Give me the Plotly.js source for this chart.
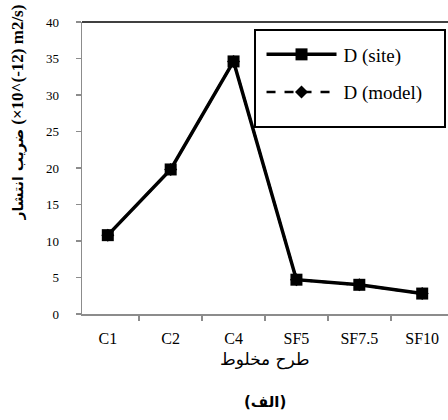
<!DOCTYPE html>
<html>
<head>
<meta charset="utf-8">
<script src="https://cdn.plot.ly/plotly-3.0.1.min.js"></script>
<style>html,body{margin:0;padding:0;background:#fff;}#chart{width:448px;height:420px;}</style>
</head>
<body>
<div id="chart"></div>
<script>
const categories = ["C1", "C2", "C4", "SF5", "SF7.5", "SF10"];
const siteValues = [10.8, 19.8, 34.6, 4.7, 4.0, 2.8];
const modelValues = [10.8, 19.8, 34.6, 4.7, 4.0, 2.8];
const yTicks = [0, 5, 10, 15, 20, 25, 30, 35, 40];

const serif = "Liberation Serif";
const arabicFont = "DejaVu Sans";

const traces = [
  {
    x: categories, y: modelValues, name: "D (model)", type: "scatter", mode: "lines+markers",
    line: {color: "#000", width: 2.5, dash: "dash"},
    marker: {symbol: "diamond", size: 10, color: "#000"},
    legendgroup: "b", legendrank: 2
  },
  {
    x: categories, y: siteValues, name: "D (site)", type: "scatter", mode: "lines+markers",
    line: {color: "#000", width: 3.5},
    marker: {symbol: "square", size: 12, color: "#000"},
    legendgroup: "a", legendrank: 1
  }
];

const layout = {
  width: 448, height: 420,
  margin: {l: 82, r: 0, t: 22, b: 106},
  paper_bgcolor: "#fff", plot_bgcolor: "#fff",
  font: {family: serif, color: "#000", size: 13},
  showlegend: true,
  legend: {
    x: 0.47, y: 0.976, xanchor: "left", yanchor: "top",
    bgcolor: "#fff", bordercolor: "#000", borderwidth: 1.5,
    font: {family: serif, size: 19, color: "#000"},
    traceorder: "grouped", tracegroupgap: 15, itemwidth: 78
  },
  xaxis: {
    type: "category", categoryorder: "array", categoryarray: categories,
    showline: true, linecolor: "#8c8c8c", linewidth: 1.5,
    ticks: "outside", tickson: "boundaries", ticklen: 5, tickcolor: "#8c8c8c", tickwidth: 1.5,
    showgrid: false, zeroline: false, ticklabelstandoff: 9,
    tickfont: {family: serif, size: 16, color: "#000"}
  },
  yaxis: {
    range: [0, 40], tickvals: yTicks, ticktext: yTicks.map(String),
    showline: true, linecolor: "#8c8c8c", linewidth: 1.5,
    ticks: "outside", ticklen: 5, tickcolor: "#8c8c8c", tickwidth: 1.5,
    showgrid: false, zeroline: false, ticklabelstandoff: 14,
    tickfont: {family: serif, size: 13, color: "#000"}
  },
  shapes: [
    {type: "line", xref: "paper", yref: "paper", x0: 0, x1: 1, y0: 1, y1: 1, line: {color: "#000", width: 1.5}}
  ],
  annotations: [
    {text: "<b><span style=\"font-family:DejaVu Sans;font-size:14px\">ضریب انتشار</span>\u200E \u202A(×10^(-12) m2/s)\u202C</b>", xref: "paper", yref: "paper",
     x: 0, xshift: -64, y: 0.69, xanchor: "center", yanchor: "middle", textangle: -90, showarrow: false,
     font: {family: serif, size: 17, color: "#000"}},
    {text: "طرح مخلوط", xref: "paper", yref: "paper", x: 0.5, y: -0.155, xanchor: "center", yanchor: "middle", showarrow: false,
     font: {family: arabicFont, size: 17, color: "#000"}},
    {text: "<b>(الف)</b>", xref: "paper", yref: "paper", x: 0.5, y: -0.3, xanchor: "center", yanchor: "middle", showarrow: false,
     font: {family: arabicFont, size: 15, color: "#000"}}
  ]
};

function fixLegend(gd) {
  const leg = gd.querySelector(".legend");
  if (!leg) return;
  leg.querySelectorAll(".traces").forEach(function (g) {
    g.querySelectorAll(".legendlines path").forEach(function (p) { p.setAttribute("d", "M11,0h70"); });
    g.querySelectorAll(".legendpoints path").forEach(function (p) { p.setAttribute("transform", "translate(46,0)"); });
  });
  const bg = leg.querySelector("rect.bg");
  if (bg) { bg.setAttribute("width", "190"); bg.setAttribute("height", "97"); }
  const sb = leg.querySelector(".scrollbox");
  if (sb) sb.removeAttribute("clip-path");
  const groups = leg.querySelector(".groups");
  if (groups) groups.setAttribute("transform", "translate(0,5)");
}

Plotly.newPlot("chart", traces, layout, {displayModeBar: false, staticPlot: true}).then(function (gd) {
  fixLegend(gd);
  gd.on("plotly_afterplot", function () { fixLegend(gd); });
});
</script>
</body>
</html>
